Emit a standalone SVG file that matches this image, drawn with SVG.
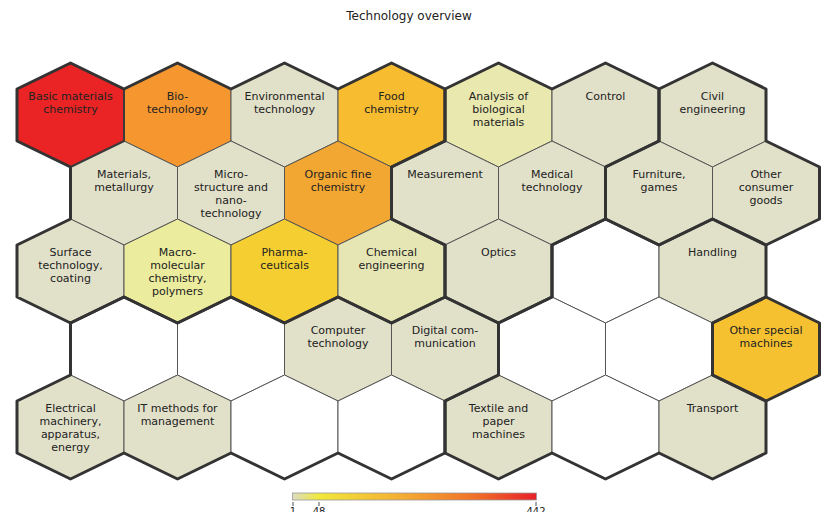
<svg xmlns="http://www.w3.org/2000/svg" width="830" height="512" viewBox="0 0 830 512">
<defs>
<style>
.cell{stroke:#555;stroke-width:1;stroke-linejoin:round}
.beige{fill:#e1e0c9}
.empty{fill:#ffffff}
.lbl{font-family:"DejaVu Sans","Liberation Sans",sans-serif;font-size:11px;fill:#222;text-anchor:middle}
.clu{fill:none;stroke:#333;stroke-width:3;stroke-linejoin:round;stroke-linecap:round}
.mid{fill:none;stroke:#3a3a3a;stroke-width:2;stroke-linecap:round}
.tick{stroke:#555;stroke-width:1}
.leg{font-family:"DejaVu Sans","Liberation Sans",sans-serif;font-size:10px;fill:#222;text-anchor:middle}
</style>
<path id="hx" d="M0,-52 L53.5,-26 L53.5,26 L0,52 L-53.5,26 L-53.5,-26 Z"/>
<linearGradient id="grad" x1="0" y1="0" x2="1" y2="0">
<stop offset="0" stop-color="#dcdcc4"/>
<stop offset="0.11" stop-color="#f1e83a"/>
<stop offset="0.45" stop-color="#f5ad32"/>
<stop offset="0.75" stop-color="#f17028"/>
<stop offset="1" stop-color="#e8202a"/>
</linearGradient>
</defs>
<rect width="830" height="512" fill="#ffffff"/>
<text x="409" y="20" font-family="DejaVu Sans, Liberation Sans, sans-serif" font-size="12" fill="#222" text-anchor="middle">Technology overview</text>

<g id="cell-basic-materials"><use href="#hx" x="70.5" y="115" class="cell" fill="#ea2424"/><text class="lbl" x="70.5" y="100">Basic materials<tspan x="70.5" dy="13">chemistry</tspan></text></g>
<g id="cell-biotechnology"><use href="#hx" x="177.5" y="115" class="cell" fill="#f5962f"/><text class="lbl" x="177.5" y="100">Bio-<tspan x="177.5" dy="13">technology</tspan></text></g>
<g id="cell-environmental"><use href="#hx" x="284.5" y="115" class="cell beige"/><text class="lbl" x="284.5" y="100">Environmental<tspan x="284.5" dy="13">technology</tspan></text></g>
<g id="cell-food"><use href="#hx" x="391.5" y="115" class="cell" fill="#f7bc30"/><text class="lbl" x="391.5" y="100">Food<tspan x="391.5" dy="13">chemistry</tspan></text></g>
<g id="cell-analysis"><use href="#hx" x="498.5" y="115" class="cell" fill="#e8e8af"/><text class="lbl" x="498.5" y="100">Analysis of<tspan x="498.5" dy="13">biological</tspan><tspan x="498.5" dy="13">materials</tspan></text></g>
<g id="cell-control"><use href="#hx" x="605.5" y="115" class="cell beige"/><text class="lbl" x="605.5" y="100">Control</text></g>
<g id="cell-civil"><use href="#hx" x="712.5" y="115" class="cell beige"/><text class="lbl" x="712.5" y="100">Civil<tspan x="712.5" dy="13">engineering</tspan></text></g>

<g id="cell-materials"><use href="#hx" x="124" y="193" class="cell beige"/><text class="lbl" x="124" y="178">Materials,<tspan x="124" dy="13">metallurgy</tspan></text></g>
<g id="cell-micro"><use href="#hx" x="231" y="193" class="cell beige"/><text class="lbl" x="231" y="178">Micro-<tspan x="231" dy="13">structure and</tspan><tspan x="231" dy="13">nano-</tspan><tspan x="231" dy="13">technology</tspan></text></g>
<g id="cell-organic"><use href="#hx" x="338" y="193" class="cell" fill="#f3a733"/><text class="lbl" x="338" y="178">Organic fine<tspan x="338" dy="13">chemistry</tspan></text></g>
<g id="cell-measurement"><use href="#hx" x="445" y="193" class="cell beige"/><text class="lbl" x="445" y="178">Measurement</text></g>
<g id="cell-medical"><use href="#hx" x="552" y="193" class="cell beige"/><text class="lbl" x="552" y="178">Medical<tspan x="552" dy="13">technology</tspan></text></g>
<g id="cell-furniture"><use href="#hx" x="659" y="193" class="cell beige"/><text class="lbl" x="659" y="178">Furniture,<tspan x="659" dy="13">games</tspan></text></g>
<g id="cell-other-consumer"><use href="#hx" x="766" y="193" class="cell beige"/><text class="lbl" x="766" y="178">Other<tspan x="766" dy="13">consumer</tspan><tspan x="766" dy="13">goods</tspan></text></g>

<g id="cell-surface"><use href="#hx" x="70.5" y="271" class="cell beige"/><text class="lbl" x="70.5" y="256">Surface<tspan x="70.5" dy="13">technology,</tspan><tspan x="70.5" dy="13">coating</tspan></text></g>
<g id="cell-macro"><use href="#hx" x="177.5" y="271" class="cell" fill="#ecec9e"/><text class="lbl" x="177.5" y="256">Macro-<tspan x="177.5" dy="13">molecular</tspan><tspan x="177.5" dy="13">chemistry,</tspan><tspan x="177.5" dy="13">polymers</tspan></text></g>
<g id="cell-pharma"><use href="#hx" x="284.5" y="271" class="cell" fill="#f5cf31"/><text class="lbl" x="284.5" y="256">Pharma-<tspan x="284.5" dy="13">ceuticals</tspan></text></g>
<g id="cell-chemical-eng"><use href="#hx" x="391.5" y="271" class="cell" fill="#e6e6b5"/><text class="lbl" x="391.5" y="256">Chemical<tspan x="391.5" dy="13">engineering</tspan></text></g>
<g id="cell-optics"><use href="#hx" x="498.5" y="271" class="cell beige"/><text class="lbl" x="498.5" y="256">Optics</text></g>
<g id="cell-empty-2-5"><use href="#hx" x="605.5" y="271" class="cell empty"/></g>
<g id="cell-handling"><use href="#hx" x="712.5" y="271" class="cell beige"/><text class="lbl" x="712.5" y="256">Handling</text></g>

<g id="cell-empty-3-0"><use href="#hx" x="124" y="349" class="cell empty"/></g>
<g id="cell-empty-3-1"><use href="#hx" x="231" y="349" class="cell empty"/></g>
<g id="cell-computer"><use href="#hx" x="338" y="349" class="cell beige"/><text class="lbl" x="338" y="334">Computer<tspan x="338" dy="13">technology</tspan></text></g>
<g id="cell-digital"><use href="#hx" x="445" y="349" class="cell beige"/><text class="lbl" x="445" y="334">Digital com-<tspan x="445" dy="13">munication</tspan></text></g>
<g id="cell-empty-3-4"><use href="#hx" x="552" y="349" class="cell empty"/></g>
<g id="cell-empty-3-5"><use href="#hx" x="659" y="349" class="cell empty"/></g>
<g id="cell-other-special"><use href="#hx" x="766" y="349" class="cell" fill="#f5c131"/><text class="lbl" x="766" y="334">Other special<tspan x="766" dy="13">machines</tspan></text></g>

<g id="cell-electrical"><use href="#hx" x="70.5" y="427" class="cell beige"/><text class="lbl" x="70.5" y="412">Electrical<tspan x="70.5" dy="13">machinery,</tspan><tspan x="70.5" dy="13">apparatus,</tspan><tspan x="70.5" dy="13">energy</tspan></text></g>
<g id="cell-it-methods"><use href="#hx" x="177.5" y="427" class="cell beige"/><text class="lbl" x="177.5" y="412">IT methods for<tspan x="177.5" dy="13">management</tspan></text></g>
<g id="cell-empty-4-2"><use href="#hx" x="284.5" y="427" class="cell empty"/></g>
<g id="cell-empty-4-3"><use href="#hx" x="391.5" y="427" class="cell empty"/></g>
<g id="cell-textile"><use href="#hx" x="498.5" y="427" class="cell beige"/><text class="lbl" x="498.5" y="412">Textile and<tspan x="498.5" dy="13">paper</tspan><tspan x="498.5" dy="13">machines</tspan></text></g>
<g id="cell-empty-4-5"><use href="#hx" x="605.5" y="427" class="cell empty"/></g>
<g id="cell-transport"><use href="#hx" x="712.5" y="427" class="cell beige"/><text class="lbl" x="712.5" y="412">Transport</text></g>

<g id="cluster-borders">
<path class="mid" d="M124,89 L124,141 L70.5,167"/>
<path class="clu" d="M17,89 L70.5,63 L124,89 L177.5,63 L231,89 L284.5,63 L338,89 L391.5,63 L445,89 L445,141 L391.5,167 L391.5,219 L445,245 L445,297 L391.5,323 L338,297 L284.5,323 L231,297 L177.5,323 L124,297 L70.5,323 L17,297 L17,245 L70.5,219 L70.5,167 L17,141 Z"/>
<path class="clu" d="M445,89 L498.5,63 L552,89 L605.5,63 L659,89 L659,141 L605.5,167 L605.5,219 L552,245 L552,297 L498.5,323 L445,297 L445,245 L391.5,219 L391.5,167 L445,141 Z"/>
<path class="clu" d="M659,89 L712.5,63 L766,89 L766,141 L819.5,167 L819.5,219 L766,245 L712.5,219 L659,245 L605.5,219 L605.5,167 L659,141 Z"/>
<path class="clu" d="M70.5,323 L124,297 L177.5,323 L231,297 L284.5,323 L338,297 L391.5,323 L445,297 L498.5,323 L498.5,375 L445,401 L445,453 L391.5,479 L338,453 L284.5,479 L231,453 L177.5,479 L124,453 L70.5,479 L17,453 L17,401 L70.5,375 Z"/>
<path class="clu" d="M552,245 L605.5,219 L659,245 L712.5,219 L766,245 L766,297 L712.5,323 L712.5,375 L766,401 L766,453 L712.5,479 L659,453 L605.5,479 L552,453 L498.5,479 L445,453 L445,401 L498.5,375 L498.5,323 L552,297 Z"/>
<path class="clu" d="M766,297 L819.5,323 L819.5,375 L766,401 L712.5,375 L712.5,323 Z"/>
</g>

<g id="legend">
<rect x="292.5" y="493" width="244" height="7" fill="url(#grad)" stroke="#9a9a9a" stroke-width="0.8"/>
<line class="tick" x1="293" y1="502" x2="293" y2="506"/>
<line class="tick" x1="319" y1="502" x2="319" y2="506"/>
<line class="tick" x1="536" y1="502" x2="536" y2="506"/>
<text class="leg" x="293" y="515">1</text>
<text class="leg" x="319" y="515">48</text>
<text class="leg" x="536" y="515">442</text>
</g>
</svg>
